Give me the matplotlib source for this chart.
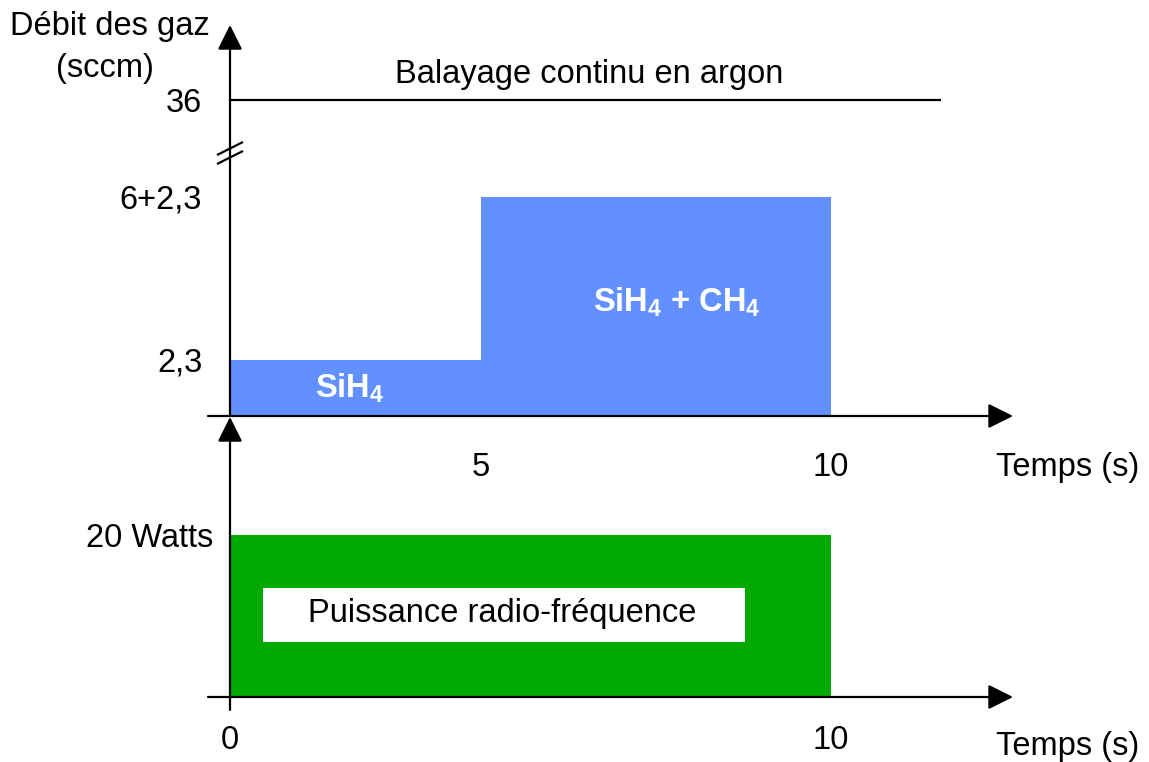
import numpy as np
import matplotlib
matplotlib.use('Agg')
import matplotlib.pyplot as plt
from matplotlib.transforms import ScaledTranslation

plt.rcParams['font.family'] = ['Liberation Sans', 'DejaVu Sans']
plt.rcParams['mathtext.fontset'] = 'custom'
plt.rcParams['mathtext.rm'] = 'Liberation Sans'
plt.rcParams['mathtext.bf'] = 'Liberation Sans:bold'

# sequence des gaz (s, sccm)
t_start = [0, 5]
t_width = [5, 5]
debit = [2.3, 8.3]
debit_ticks = [2.3, 8.3, 36]
debit_labels = ['2,3', '6+2,3', '36']
argon = 36
t_argon = [0, 11.57]

# puissance RF (s, W)
t_rf = [0, 10]
puissance = 20

x_ticks_haut = [5, 10]
x_ticks_bas = [0, 10]

bleu = '#6291ff'
vert = '#00aa00'
fs = 23.5

fig = plt.figure(figsize=(11.49, 7.62), dpi=100)

# schema pas a l'echelle : echelles lineaires par morceaux
tx = [-10, 0, 5, 10, 30]
px = [-502, 0, 251, 601, 2001]
ty = [-10, 0, 2.3, 10, 36, 100]
py = [-243.5, 0, 56, 265.2, 316, 441]

def xf(t):
    return np.interp(t, tx, px)

def xi(p):
    return np.interp(p, px, tx)

def yf(y):
    return np.interp(y, ty, py)

def yi(p):
    return np.interp(p, py, ty)

xmax = float(xi(783))
ytop = float(yi(391))

ax = fig.add_axes([230 / 1149, 1 - 416 / 762, 783 / 1149, 391 / 762])
ax.set_xscale('function', functions=(xf, xi))
ax.set_yscale('function', functions=(yf, yi))
ax.set_xlim(0, xmax)
ax.set_ylim(0, ytop)
ax.patch.set_visible(False)
for s in ax.spines.values():
    s.set_visible(False)

ax.bar(t_start, debit, width=t_width, align='edge', color=bleu, linewidth=0, zorder=1)
ax.plot(t_argon, [argon, argon], color='black', lw=1.6, solid_capstyle='butt')
ax.text(6.54, float(yi(341)), 'Balayage continu en argon', fontsize=fs,
        ha='center', va='center')
ax.text(2.39, 1.15, r'$\mathbf{SiH_4}$', color='white', fontsize=fs, ha='center', va='center')
ax.text(7.79, 4.43, r'$\mathbf{SiH_4}$ + $\mathbf{CH_4}$', color='white', fontsize=fs,
        fontweight='bold', ha='center', va='center')

arr = dict(arrowstyle='-|>', color='black', lw=1.6, mutation_scale=38, shrinkA=0, shrinkB=0)
ax.annotate('', xy=(0, ytop), xytext=(0, 0), arrowprops=arr, annotation_clip=False)
ax.annotate('', xy=(xmax, 0), xytext=(float(xi(-22)), 0), arrowprops=arr,
            annotation_clip=False)

# marque de coupure de l'axe
brk = fig.dpi_scale_trans + ScaledTranslation(0, float(yi(263)), ax.transData)
for dy in (-0.045, 0.045):
    ax.plot([-0.12, 0.12], [dy - 0.06, dy + 0.06], color='black', lw=1.6,
            transform=brk, clip_on=False)

ax.set_yticks(debit_ticks)
ax.set_yticklabels(debit_labels, fontsize=fs)
ax.set_xticks(x_ticks_haut)
ax.set_xticklabels([str(v) for v in x_ticks_haut], fontsize=fs)
ax.tick_params(axis='y', length=0, pad=20)
ax.tick_params(axis='x', length=0, pad=26)
ax.annotate('Temps (s)', xy=(xmax, 0), xytext=(39, -37), textcoords='offset points',
            fontsize=fs, ha='center', va='center', annotation_clip=False)

fig.text(110 / 1149, 1 - 27 / 762, 'Débit des gaz', fontsize=fs, ha='center', va='center')
fig.text(105 / 1149, 1 - 68 / 762, '(sccm)', fontsize=fs, ha='center', va='center')

# axes puissance
ax2 = fig.add_axes([230 / 1149, 1 - 697 / 762, 783 / 1149, 280 / 762])
ax2.set_xscale('function', functions=(xf, xi))
ax2.set_xlim(0, xmax)
ax2.set_ylim(0, 34.6)
ax2.patch.set_visible(False)
for s in ax2.spines.values():
    s.set_visible(False)
ax2.bar(t_rf[0], puissance, width=t_rf[1] - t_rf[0], align='edge', color=vert, linewidth=0)
ax2.bar(float(xi(33)), 13.46 - 6.8, bottom=6.8, width=float(xi(515) - xi(33)), align='edge',
        color='white', linewidth=0)
ax2.text(float(xi(272)), 10.3, 'Puissance radio-fréquence', fontsize=fs,
         ha='center', va='center')
ax2.annotate('', xy=(0, 34.6), xytext=(0, -1.6), arrowprops=arr, annotation_clip=False)
ax2.annotate('', xy=(xmax, 0), xytext=(float(xi(-22)), 0), arrowprops=arr,
             annotation_clip=False)
ax2.set_yticks([puissance])
ax2.set_yticklabels(['20 Watts'], fontsize=fs)
ax2.set_xticks(x_ticks_bas)
ax2.set_xticklabels([str(v) for v in x_ticks_bas], fontsize=fs)
ax2.tick_params(axis='y', length=0, pad=12)
ax2.tick_params(axis='x', length=0, pad=20)
ax2.annotate('Temps (s)', xy=(xmax, 0), xytext=(39, -36), textcoords='offset points',
             fontsize=fs, ha='center', va='center', annotation_clip=False)

fig.savefig('out.png', dpi=100)
